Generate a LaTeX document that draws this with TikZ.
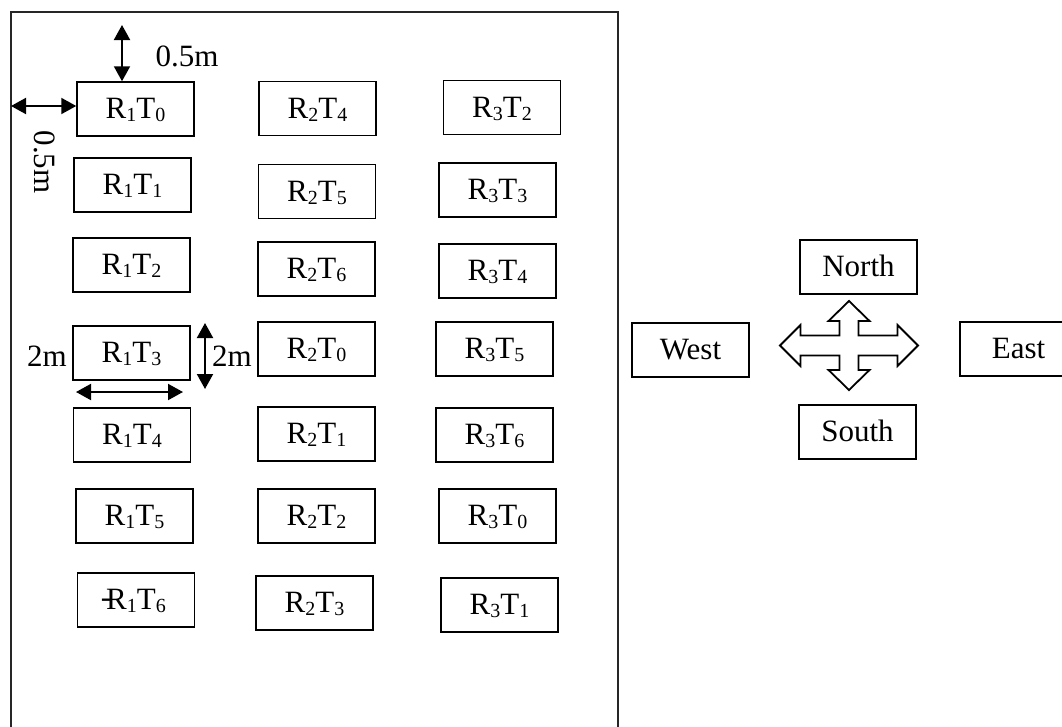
\documentclass[tikz,border=0pt]{standalone}
\usepackage{fontspec}
\setmainfont{Liberation Serif}
\usetikzlibrary{arrows.meta}
\newcommand\sbx[1]{\raisebox{-3pt}{\fontsize{20}{20}\selectfont #1}}
\newcommand\lbl[2]{R\sbx{#1}T\sbx{#2}}
\begin{document}
\begin{tikzpicture}[x=1pt,y=-1pt,
  box/.style={draw,line width=1.5pt,minimum width=117pt,minimum height=54pt,inner sep=0pt,
    text height=21pt,text depth=2pt,font=\fontsize{31}{31}\selectfont},
  txt/.style={inner sep=0pt,font=\fontsize{31}{31}\selectfont},
  frame/.style={draw=black!85,line width=2pt},
  dim/.style={line width=2pt,{Triangle[length=15pt,width=16pt]}-{Triangle[length=15pt,width=16pt]}},
  cross/.style={draw,line width=1.8pt,line join=miter}]
\useasboundingbox (0,0) rectangle (1062,726);
% outer field
\draw[frame] (11,740) -- (11,12) -- (618,12) -- (618,740);
% column 1
\node[box] (r10) at (135.5,109) {\lbl{1}{0}};
\node[box] (r11) at (132.5,185) {\lbl{1}{1}};
\node[box] (r12) at (131.5,265) {\lbl{1}{2}};
\node[box] (r13) at (131.5,353) {\lbl{1}{3}};
\node[box] (r14) at (132,435) {\lbl{1}{4}};
\node[box] (r15) at (134.5,516) {\lbl{1}{5}};
\node[box] (r16) at (136,600) {\llap{\raisebox{2pt}{-}\kern-5pt}\lbl{1}{6}};
% column 2
\node[box] (r24) at (317.5,108.5) {\lbl{2}{4}};
\node[box] (r25) at (317,191.5) {\lbl{2}{5}};
\node[box] (r26) at (316.5,269) {\lbl{2}{6}};
\node[box] (r20) at (316.5,349) {\lbl{2}{0}};
\node[box] (r21) at (316.5,434) {\lbl{2}{1}};
\node[box] (r22) at (316.5,516) {\lbl{2}{2}};
\node[box] (r23) at (314.5,603) {\lbl{2}{3}};
% column 3
\node[box] (r32) at (502,107.5) {\lbl{3}{2}};
\node[box] (r33) at (497.5,190) {\lbl{3}{3}};
\node[box] (r34) at (497.5,271) {\lbl{3}{4}};
\node[box] (r35) at (494.5,349) {\lbl{3}{5}};
\node[box] (r36) at (494.5,435) {\lbl{3}{6}};
\node[box] (r30) at (497.5,516) {\lbl{3}{0}};
\node[box] (r31) at (499.5,605) {\lbl{3}{1}};
% dimensions
\coordinate (a1) at (122,25);
\draw[dim] (a1) -- (r10.north -| a1);
\coordinate (a2) at (11,106);
\draw[dim] (a2) -- (r10.west |- a2);
\coordinate (a3t) at (205,323);
\coordinate (a3b) at (205,389);
\draw[dim] (a3t) -- (a3b);
\coordinate (a4l) at (76,392);
\coordinate (a4r) at (183,392);
\draw[dim] (a4l) -- (a4r);
\node[txt] (d1) at (187,56) {0.5m};
\node[txt,rotate=-90] (d2) at (45,162) {0.5m};
\node[txt] (d3) at (47,356) {2m};
\node[txt] (d4) at (232,356) {2m};
% compass
\node[box] (north) at (858.5,267) {North};
\node[box] (west) at (690.5,350) {West};
\node[box] (east) at (1018.5,349) {East};
\node[box] (south) at (857.5,432) {South};
\coordinate (c) at (849,345.5);
\draw[cross] (c) +(0,-44.5) -- +(20.5,-24.5) -- +(9.5,-24.5) -- +(9.5,-10) -- +(48.5,-10)
  -- +(48.5,-20.5) -- +(69,0) -- +(48.5,20.5) -- +(48.5,10) -- +(9.5,10) -- +(9.5,24.5)
  -- +(20.5,24.5) -- +(0,44.5) -- +(-20.5,24.5) -- +(-9.5,24.5) -- +(-9.5,10) -- +(-48.5,10)
  -- +(-48.5,20.5) -- +(-69,0) -- +(-48.5,-20.5) -- +(-48.5,-10) -- +(-9.5,-10)
  -- +(-9.5,-24.5) -- +(-20.5,-24.5) -- cycle;
\end{tikzpicture}
\end{document}
